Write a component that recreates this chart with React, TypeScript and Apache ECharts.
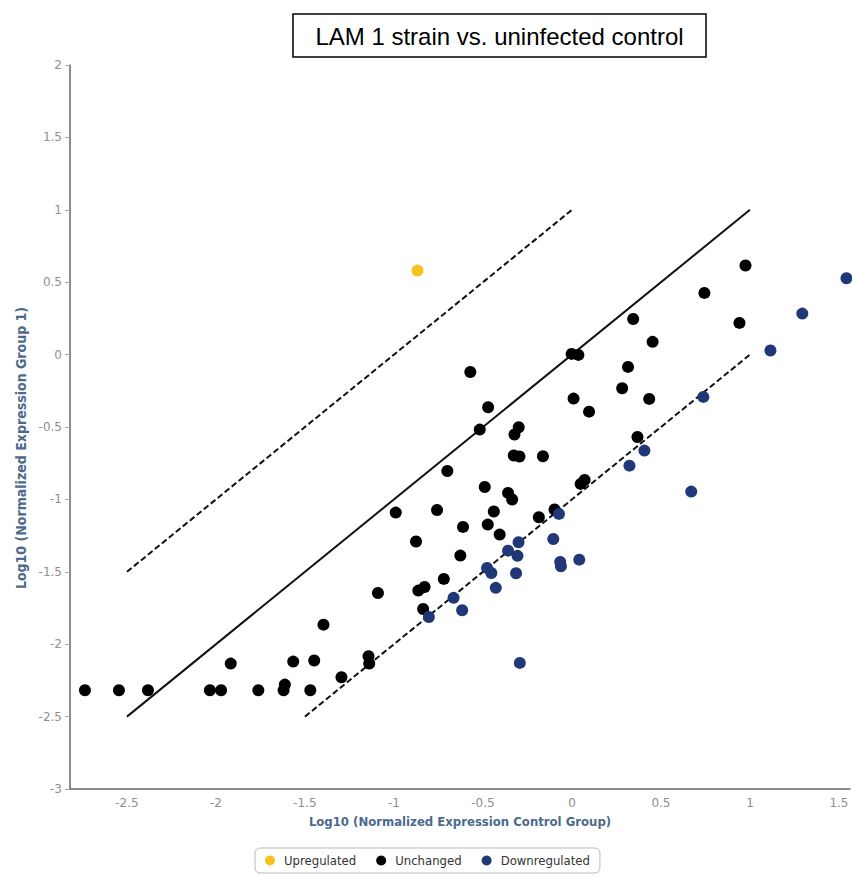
import React, { useEffect, useRef } from "react";
import * as echarts from "echarts";

const upregulated: number[][] = [[-0.868, 0.58]];

const unchanged: number[][] = [
  [-2.736, -2.318], [-2.545, -2.318], [-2.382, -2.318], [-2.034, -2.318], [-1.971, -2.318],
  [-1.762, -2.318], [-1.62, -2.318], [-1.613, -2.279], [-1.47, -2.318], [-1.917, -2.134],
  [-1.566, -2.12], [-1.448, -2.113], [-1.396, -1.865], [-1.295, -2.228], [-1.143, -2.083],
  [-1.139, -2.134], [-0.836, -1.757],
  [-0.571, -0.12], [-0.471, -0.364], [-0.518, -0.518], [-0.299, -0.502], [-0.323, -0.552],
  [-0.327, -0.697], [-0.295, -0.704], [-0.163, -0.702], [-0.002, 0.005], [0.036, -0.002],
  [0.453, 0.088], [0.315, -0.085], [0.282, -0.232], [0.434, -0.306], [0.009, -0.304],
  [0.096, -0.394], [0.368, -0.569], [-0.7, -0.804], [-0.49, -0.914], [-0.359, -0.955],
  [-0.336, -1.001], [-0.99, -1.091], [-0.758, -1.073], [-0.439, -1.084], [0.049, -0.893],
  [0.071, -0.866], [-0.186, -1.123], [-0.098, -1.07], [-0.473, -1.174], [-0.612, -1.19],
  [-0.406, -1.243], [-0.876, -1.291], [-0.627, -1.388], [-0.72, -1.549], [-1.09, -1.646],
  [-0.863, -1.63], [-0.828, -1.605],
  [0.975, 0.615], [0.744, 0.426], [0.941, 0.219], [0.344, 0.246],
];

const downregulated: number[][] = [
  [-0.073, -1.1], [-0.105, -1.273], [-0.066, -1.432], [-0.062, -1.462], [0.041, -1.416],
  [-0.3, -1.296], [-0.359, -1.354], [-0.306, -1.39], [-0.314, -1.51], [-0.477, -1.473],
  [-0.453, -1.508], [-0.428, -1.611], [-0.665, -1.68], [-0.617, -1.766], [-0.804, -1.812],
  [-0.293, -2.129], [0.67, -0.946], [1.542, 0.527], [1.294, 0.283], [1.115, 0.028],
  [0.738, -0.292], [0.407, -0.663], [0.323, -0.767],
];

const solidLine: number[][] = [[-2.5, -2.5], [1, 1]];
const upperDashed: number[][] = [[-2.5, -1.5], [0, 1]];
const lowerDashed: number[][] = [[-1.5, -2.5], [1, 0]];

const xTicks: number[] = [-2.5, -2, -1.5, -1, -0.5, 0, 0.5, 1, 1.5];

const titleText = "LAM 1 strain vs. uninfected control";
const xName = "Log10 (Normalized Expression Control Group)";
const yName = "Log10 (Normalized Expression Group 1)";
const legendNames = ["Upregulated", "Unchanged", "Downregulated"];

export default function App() {
  const ref = useRef<HTMLDivElement>(null);
  useEffect(() => {
    document.body.style.margin = "0";
    if (!ref.current) return;
    const chart = echarts.init(ref.current, null, { renderer: "svg" });
    const condensed = "DejaVu Sans Condensed, DejaVu Sans, sans-serif";
    const plain = "DejaVu Sans, sans-serif";
    const nameStyle = {
      color: "#4b6a8c",
      fontWeight: "bold" as const,
      fontSize: 13,
      fontFamily: condensed,
    };
    const lineSeries = (data: number[][], dashed: boolean) => ({
      type: "line",
      data,
      symbol: "none",
      silent: true,
      z: 1,
      lineStyle: { color: "#111", width: 2, type: dashed ? [6, 3] : "solid" },
    });
    const scatter = (name: string, data: number[][], color: string) => ({
      type: "scatter",
      name,
      data,
      symbol: "circle",
      symbolSize: 12,
      z: 3,
      itemStyle: { color, opacity: 1 },
    });
    chart.setOption({
      animation: false,
      backgroundColor: "#fff",
      grid: { left: 70, right: 2, top: 65, bottom: 88, containLabel: false },
      xAxis: {
        type: "value",
        min: -2.82,
        max: 1.562,
        name: xName,
        nameLocation: "middle",
        nameGap: 26,
        nameTextStyle: nameStyle,
        axisLine: { show: true, onZero: false, lineStyle: { color: "#666", width: 1.5 } },
        axisTick: { show: false },
        splitLine: { show: false },
        axisLabel: {
          customValues: xTicks,
          color: "#8f8f8f",
          fontSize: 12,
          fontFamily: plain,
          margin: 8,
        },
      },
      yAxis: {
        type: "value",
        min: -3,
        max: 2,
        interval: 0.5,
        axisLine: { show: true, onZero: false, lineStyle: { color: "#666", width: 1.5 } },
        axisTick: { show: true, length: 5, lineStyle: { color: "#aaa" } },
        splitLine: { show: false },
        axisLabel: {
          color: "#8f8f8f",
          fontSize: 12,
          fontFamily: plain,
          margin: 8,
        },
      },
      legend: {
        data: legendNames,
        left: 255,
        top: 848,
        icon: "circle",
        itemWidth: 10,
        itemHeight: 10,
        itemGap: 20,
        padding: [6, 10],
        borderColor: "#bbb",
        borderWidth: 1,
        borderRadius: 5,
        textStyle: {
          color: "#333",
          fontSize: 13,
          fontFamily: condensed,
          padding: [0, 0, 0, 4],
        },
      },
      graphic: [
        {
          type: "rect",
          shape: { x: 293, y: 14, width: 413, height: 43 },
          style: { fill: "#fff", stroke: "#000", lineWidth: 1.5 },
        },
        {
          type: "text",
          x: 499.5,
          y: 36,
          style: {
            text: titleText,
            fill: "#000",
            font: "24px 'Liberation Sans', Arial, sans-serif",
            align: "center",
            verticalAlign: "middle",
          },
        },
        {
          type: "text",
          x: 21,
          y: 448,
          rotation: Math.PI / 2,
          style: {
            text: yName,
            fill: "#4b6a8c",
            font: "bold 14px 'DejaVu Sans Condensed', 'DejaVu Sans', sans-serif",
            align: "center",
            verticalAlign: "middle",
          },
        },
      ],
      series: [
        lineSeries(solidLine, false),
        lineSeries(upperDashed, true),
        lineSeries(lowerDashed, true),
        scatter("Upregulated", upregulated, "#f7c21b"),
        scatter("Unchanged", unchanged, "#000000"),
        scatter("Downregulated", downregulated, "#203877"),
      ],
    });
    return () => chart.dispose();
  }, []);
  return <div ref={ref} style={{ width: 852, height: 877 }} />;
}
